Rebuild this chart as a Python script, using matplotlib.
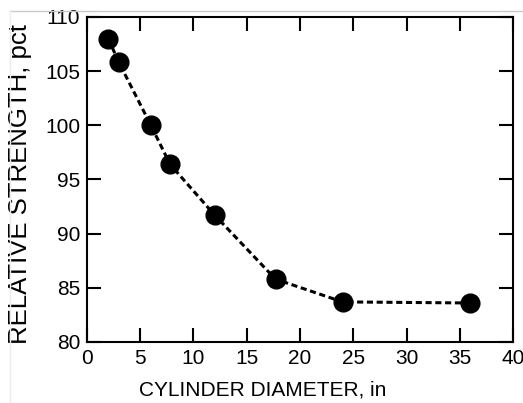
import matplotlib.pyplot as plt
from matplotlib.lines import Line2D

plt.rcParams['font.family'] = ['Liberation Sans', 'DejaVu Sans']

# data
diameter = [2, 3, 6, 7.8, 12, 17.7, 24, 36]
strength = [108, 105.8, 100, 96.4, 91.7, 85.8, 83.7, 83.6]
xticks = [0, 5, 10, 15, 20, 25, 30, 35, 40]
yticks = [80, 85, 90, 95, 100, 105, 110]

fig = plt.figure(figsize=(5.23, 4.03), dpi=100)
ax = fig.add_axes([0.1663, 0.1514, 0.8147, 0.8065])

ax.plot(diameter, strength, color='black', linestyle=(0, (2, 1.2)), linewidth=2.2,
        marker='o', markersize=13.5, markerfacecolor='black', markeredgecolor='black')

ax.set_xlim(0, 40)
ax.set_ylim(80, 110)
ax.set_xticks(xticks)
ax.set_yticks(yticks)
ax.tick_params(direction='in', length=10, width=1.5, labelsize=15,
               top=True, right=True, pad=5)
for s in ax.spines.values():
    s.set_linewidth(1.5)

ax.set_xlabel('CYLINDER DIAMETER, in', fontsize=15)
ax.set_ylabel('RELATIVE STRENGTH, pct', fontsize=18.5)
ax.xaxis.set_label_coords(0.413, -0.118)
ax.yaxis.set_label_coords(-0.128, 0.487)

# faint frame lines of the scanned figure
fig.add_artist(Line2D([10 / 523, 1], [1 - 10.7 / 403] * 2, color='#c8c8c8', linewidth=1))
fig.add_artist(Line2D([10 / 523] * 2, [0, 1 - 10.7 / 403], color='#ededed', linewidth=1))

fig.savefig('out.png', dpi=100)
